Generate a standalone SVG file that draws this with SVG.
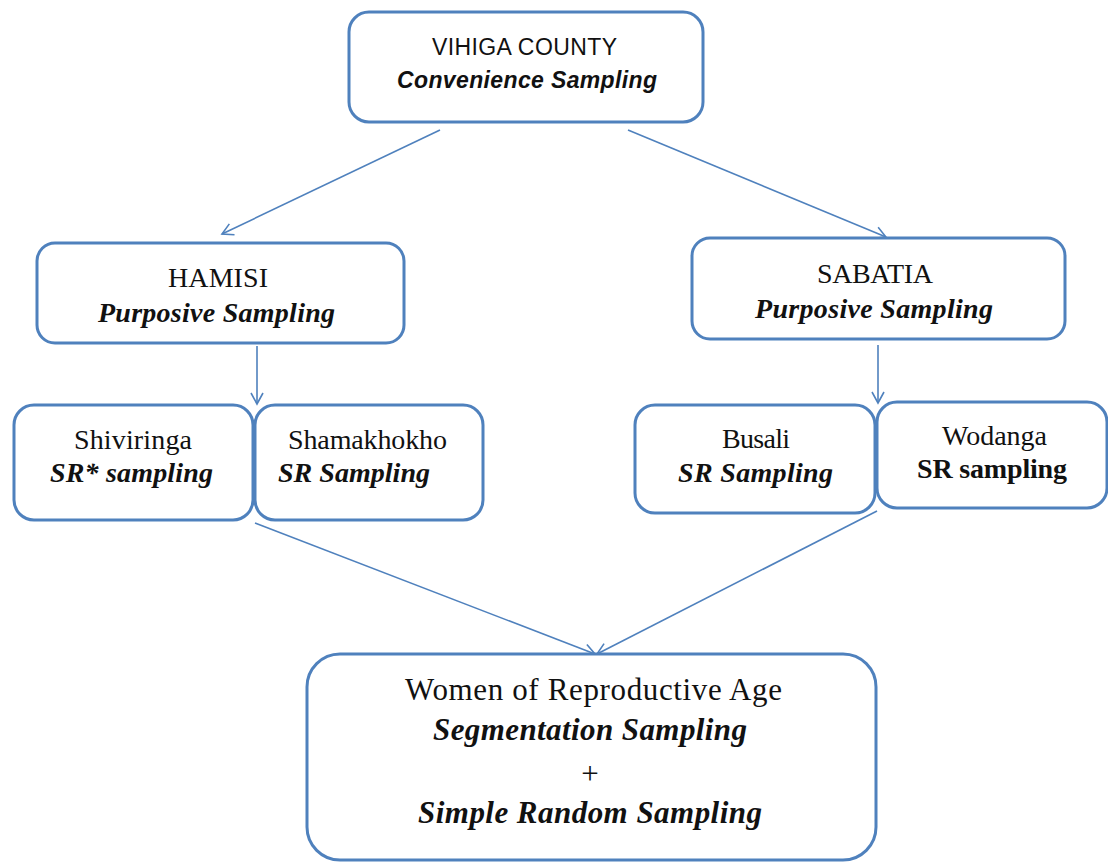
<svg xmlns="http://www.w3.org/2000/svg" width="1108" height="862" viewBox="0 0 1108 862">
<defs>
<style>
.box{fill:#fff;stroke:#4f81bd;stroke-width:3}
.ln{fill:none;stroke:#4f81bd;stroke-width:1.6;marker-end:url(#ah)}
.sans{font-family:"Liberation Sans",Arial,sans-serif;fill:#111}
.ser{font-family:"Liberation Serif","Times New Roman",serif;fill:#111}
.bi{font-weight:bold;font-style:italic}
.b{font-weight:bold}
</style>
<marker id="ah" markerUnits="userSpaceOnUse" markerWidth="16" markerHeight="16" viewBox="0 0 16 16" refX="14" refY="8" orient="auto">
<path d="M3,2 L14,8 L3,14" fill="none" stroke="#4f81bd" stroke-width="1.6"/>
</marker>
</defs>
<rect width="1108" height="862" fill="#fff"/>
<g id="connectors">
<line class="ln" x1="440" y1="130" x2="222" y2="234"/>
<line class="ln" x1="628" y1="130" x2="886" y2="237"/>
<line class="ln" x1="257" y1="346" x2="257" y2="404"/>
<line class="ln" x1="878" y1="345" x2="878" y2="403"/>
<line class="ln" x1="255" y1="523" x2="595" y2="654"/>
<line class="ln" x1="877" y1="511" x2="597" y2="654"/>
</g>
<g id="vihiga">
<rect class="box" x="349" y="12" width="354" height="110" rx="20"/>
<text class="sans" x="432" y="55" font-size="23" textLength="185">VIHIGA COUNTY</text>
<text class="sans bi" x="397" y="88" font-size="23" textLength="260">Convenience  Sampling</text>
</g>
<g id="hamisi">
<rect class="box" x="37" y="243" width="367" height="100" rx="18"/>
<text class="ser" x="168" y="287" font-size="28" textLength="100">HAMISI</text>
<text class="ser bi" x="98" y="322" font-size="28" textLength="237">Purposive  Sampling</text>
</g>
<g id="sabatia">
<rect class="box" x="692" y="238" width="373" height="101" rx="18"/>
<text class="ser" x="817" y="283" font-size="28" textLength="116">SABATIA</text>
<text class="ser bi" x="755" y="318" font-size="28" textLength="238">Purposive  Sampling</text>
</g>
<g id="shiviringa">
<rect class="box" x="14" y="405" width="239" height="115" rx="20"/>
<text class="ser" x="74" y="449" font-size="28" textLength="118">Shiviringa</text>
<text class="ser bi" x="50" y="482" font-size="28" textLength="163">SR* sampling</text>
</g>
<g id="shamakhokho">
<rect class="box" x="255" y="405" width="228" height="115" rx="20"/>
<text class="ser" x="288" y="449" font-size="28" textLength="159">Shamakhokho</text>
<text class="ser bi" x="278" y="482" font-size="28" textLength="152">SR Sampling</text>
</g>
<g id="busali">
<rect class="box" x="635" y="405" width="240" height="108" rx="20"/>
<text class="ser" x="722" y="448" font-size="28" textLength="68">Busali</text>
<text class="ser bi" x="678" y="482" font-size="28" textLength="155">SR Sampling</text>
</g>
<g id="wodanga">
<rect class="box" x="877" y="402" width="230" height="106" rx="20"/>
<text class="ser" x="942" y="445" font-size="28" textLength="105">Wodanga</text>
<text class="ser b" x="917" y="478" font-size="28" textLength="150">SR sampling</text>
</g>
<g id="women">
<rect class="box" x="307" y="654" width="569" height="206" rx="33"/>
<text class="ser" x="405" y="700" font-size="31" textLength="377">Women of Reproductive Age</text>
<text class="ser bi" x="433" y="740" font-size="31" textLength="314">Segmentation Sampling</text>
<text class="ser" x="590" y="784" font-size="31" text-anchor="middle">+</text>
<text class="ser bi" x="418" y="823" font-size="31" textLength="344">Simple Random Sampling</text>
</g>
</svg>
